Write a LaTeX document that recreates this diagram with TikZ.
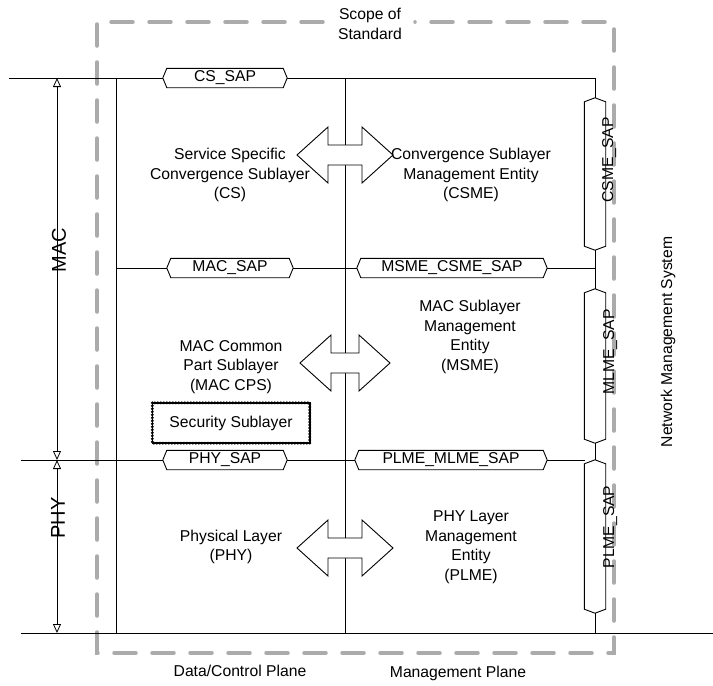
\documentclass[tikz,border=0pt]{standalone}
\usepackage{fontspec}
\setmainfont{Liberation Sans}
\usetikzlibrary{arrows.meta}
\newcommand\hsap[5]{%
  \node[minimum width=#4, minimum height=19pt, fill=white] (#1) at (#2,#3) {#5};
  \draw[ln] (#1.west) -- ([xshift=4pt]#1.north west) -- ([xshift=-4pt]#1.north east) -- (#1.east)
    -- ([xshift=-4pt]#1.south east) -- ([xshift=4pt]#1.south west) -- cycle;}
\newcommand\vsap[4]{%
  \node[minimum width=21pt, minimum height=#4, fill=white] (#1) at (#2,#3) {};
  \draw[ln] (#1.north) -- ([yshift=-4pt]#1.north east) -- ([yshift=4pt]#1.south east) -- (#1.south)
    -- ([yshift=4pt]#1.south west) -- ([yshift=-4pt]#1.north west) -- cycle;}
\newcommand\dblarr[4]{%
  \coordinate (#1) at (#2,#3);
  \draw[ln, fill=white] (#1) ++(-#4,0) -- ++(31,-28) -- ++(0,18) -- ++({2*#4-62},0) -- ++(0,-18)
    -- ++(31,28) -- ++(-31,28) -- ++(0,-18) -- ++({62-2*#4},0) -- ++(0,18) -- cycle;}
\begin{document}
\begin{tikzpicture}[x=1pt,y=-1pt,
  every node/.style={font=\fontsize{15.7}{19.5}\selectfont, inner sep=0pt},
  ln/.style={line width=0.9pt, black},
  lbl/.style={align=center},
  scopeline/.style={draw=black!33, line width=3.5pt, line cap=round, dash pattern=on 22pt off 16pt},
  dimline/.style={line width=0.8pt, {Triangle[open,length=9pt,width=8pt]}-{Triangle[open,length=9pt,width=8pt]}},
  big/.style={font=\fontsize{20}{24}\selectfont},
]
\useasboundingbox (0,0) rectangle (713,686);

% grid coordinates
\coordinate (tl) at (9,78);
\coordinate (tr) at (595,78);
\coordinate (lt) at (116,78);
\coordinate (lb) at (116,633);
\coordinate (mt) at (345,78);
\coordinate (mb) at (345,633);
\coordinate (rb) at (595,633);
\coordinate (macl) at (116,268);
\coordinate (macr) at (595,268);
\coordinate (phyl) at (21,460);
\coordinate (phyr) at (595,460);
\coordinate (botl) at (21,633);
\coordinate (botr) at (713,633);

% scope of standard
\coordinate (s1) at (323,22);
\coordinate (s2) at (97,22);
\coordinate (s3) at (97,653);
\coordinate (s4) at (614,653);
\coordinate (s5) at (614,22);
\coordinate (s6) at (415,22);
\draw[scopeline] (s1) -- (s2) -- (s3) -- (s4) -- (s5) -- (s6);

% lines
\draw[ln] (tl) -- (tr);
\draw[ln] (macl) -- (macr);
\draw[ln] (phyl) -- (phyr);
\draw[ln] (botl) -- (botr);
\draw[ln] (lt) -- (lb);
\draw[ln] (mt) -- (mb);
\draw[ln] (tr) -- (rb);

% dimension lines
\coordinate (dt) at (57,78);
\coordinate (dm) at (57,460);
\coordinate (db) at (57,633);
\draw[dimline] (dm) -- (dt);
\draw[dimline] (dm) -- (db);
\node[big, rotate=90] (mac) at (59,250) {MAC};
\node[big, rotate=90] (phy) at (58,518) {PHY};

% horizontal SAPs
\hsap{cssap}{225}{78}{124pt}{CS\_SAP}
\hsap{macsap}{230}{268}{126pt}{MAC\_SAP}
\hsap{msmesap}{452}{268}{190pt}{MSME\_CSME\_SAP}
\hsap{physap}{225}{460}{124pt}{PHY\_SAP}
\hsap{plmesap}{451}{460}{192pt}{PLME\_MLME\_SAP}

% vertical SAPs
\vsap{csmesap}{595}{174}{152pt}
\vsap{mlmesap}{595}{366}{154pt}
\vsap{plmesapv}{595}{536.5}{153pt}
\node[rotate=90, anchor=base] (csmet) at (613,160) {CSME\_SAP};
\node[rotate=90, anchor=base] (mlmet) at (614,352) {MLME\_SAP};
\node[rotate=90, anchor=base] (plmet) at (614,527) {PLME\_SAP};

% double arrows
\dblarr{a1}{345}{155}{48}
\dblarr{a2}{345}{363}{45}
\dblarr{a3}{345}{548}{48}

% texts
\node[lbl] (cs) at (230,175) {Service Specific\\Convergence Sublayer\\(CS)};
\node[lbl] (csme) at (471,175) {Convergence Sublayer\\Management Entity\\(CSME)};
\node[lbl] (cps) at (231,367) {MAC Common\\Part Sublayer\\(MAC CPS)};
\node[lbl] (msme) at (470,337) {MAC Sublayer\\Management\\Entity\\(MSME)};
\node[lbl] (phyl1) at (231,547) {Physical Layer\\(PHY)};
\node[lbl] (plme) at (471,547) {PHY Layer\\Management\\Entity\\(PLME)};

% security sublayer
\node[minimum width=157pt, minimum height=40pt] (sec) at (231,423) {Security Sublayer};
\draw[line width=1.6pt, black] (sec.north west) rectangle (sec.south east);
\draw[line width=3.2pt, black, line cap=round, dash pattern=on 0pt off 3pt] (sec.north west) rectangle (sec.south east);

% labels
\node[lbl] (scope) at (370,24) {Scope of\\Standard};
\node (dcp) at (240,671) {Data/Control Plane};
\node (mp) at (458,673) {Management Plane};
\node[rotate=90] (nms) at (668,342) {Network Management System};
\end{tikzpicture}
\end{document}
